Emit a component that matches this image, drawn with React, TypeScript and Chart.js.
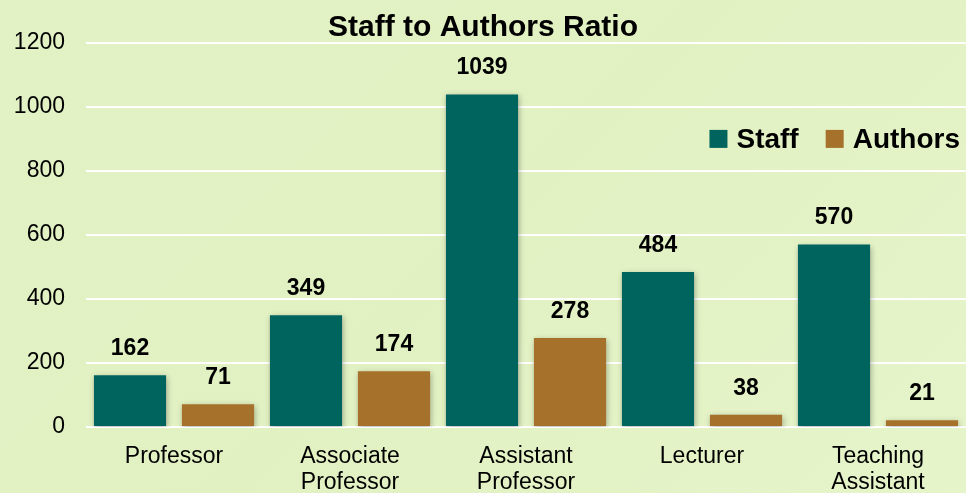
import React, { useEffect, useRef } from "react";
import { Chart, registerables } from "chart.js";

Chart.register(...registerables);

const categories: string[][] = [
  ["Professor"],
  ["Associate", "Professor"],
  ["Assistant", "Professor"],
  ["Lecturer"],
  ["Teaching", "Assistant"],
];
const staffValues = [162, 349, 1039, 484, 570];
const authorValues = [71, 174, 278, 38, 21];
const seriesNames = ["Staff", "Authors"];
const seriesColors = ["#00645e", "#a5712b"];
const chartTitle = "Staff to Authors Ratio";
const yMax = 1200;
const yStep = 200;

const FONT = "'Liberation Sans', Arial, sans-serif";

const shadowPlugin = {
  id: "barShadow",
  beforeDatasetsDraw(chart: any) {
    const ctx = chart.ctx;
    ctx.save();
    ctx.shadowColor = "rgba(0,0,0,0.30)";
    ctx.shadowBlur = 6;
    ctx.shadowOffsetX = 1;
    ctx.shadowOffsetY = 2;
  },
  afterDatasetsDraw(chart: any) {
    chart.ctx.restore();
  },
};

const labelPlugin = {
  id: "valueLabels",
  afterDraw(chart: any) {
    const ctx = chart.ctx;
    ctx.save();
    ctx.font = `bold 23px ${FONT}`;
    ctx.fillStyle = "#000";
    ctx.textAlign = "center";
    ctx.textBaseline = "bottom";
    chart.data.datasets.forEach((ds: any, i: number) => {
      const meta = chart.getDatasetMeta(i);
      meta.data.forEach((el: any, j: number) => {
        ctx.fillText(String(ds.data[j]), el.x, el.y - 15);
      });
    });
    ctx.restore();
  },
};

const legendPlugin = {
  id: "innerLegend",
  afterDraw(chart: any) {
    const ctx = chart.ctx;
    const area = chart.chartArea;
    ctx.save();
    ctx.font = `bold 28px ${FONT}`;
    ctx.textBaseline = "middle";
    ctx.textAlign = "left";
    const box = 18;
    const gapText = 9;
    const gapItem = 27;
    const items = chart.data.datasets.map((ds: any) => ({
      label: ds.label,
      color: ds.backgroundColor,
      w: ctx.measureText(ds.label).width,
    }));
    const total =
      items.reduce((s: number, it: any) => s + box + gapText + it.w, 0) +
      gapItem * (items.length - 1);
    let x = area.right - 6 - total;
    const y = area.top + 96;
    items.forEach((it: any) => {
      ctx.fillStyle = it.color;
      ctx.fillRect(x, y - box / 2, box, box);
      x += box + gapText;
      ctx.fillStyle = "#000";
      ctx.fillText(it.label, x, y + 1);
      x += it.w + gapItem;
    });
    ctx.restore();
  },
};

export default function App() {
  const ref = useRef<HTMLCanvasElement | null>(null);

  useEffect(() => {
    if (!ref.current) return;
    const chart = new Chart(ref.current, {
      type: "bar",
      data: {
        labels: categories,
        datasets: [
          {
            label: seriesNames[0],
            data: staffValues,
            backgroundColor: seriesColors[0],
            categoryPercentage: 1.0,
            barPercentage: 0.82,
          },
          {
            label: seriesNames[1],
            data: authorValues,
            backgroundColor: seriesColors[1],
            categoryPercentage: 1.0,
            barPercentage: 0.82,
          },
        ],
      },
      options: {
        responsive: false,
        animation: false,
        devicePixelRatio: 1,
        layout: { padding: 0 },
        plugins: {
          legend: { display: false },
          tooltip: { enabled: false },
          title: {
            display: true,
            text: chartTitle,
            color: "#000",
            font: { family: FONT, size: 30, weight: "bold", lineHeight: 0.93 },
            padding: { top: 14, bottom: 1 },
          },
        },
        scales: {
          x: {
            grid: { display: false, drawTicks: false },
            border: { display: false },
            ticks: {
              color: "#000",
              padding: 17,
              maxRotation: 0,
              autoSkip: false,
              font: { family: FONT, size: 23, lineHeight: 1.13 },
            },
            afterFit(scale: any) {
              scale.height = 66;
            },
          },
          y: {
            min: 0,
            max: yMax,
            grid: { color: "#ffffff", lineWidth: 2, drawTicks: false },
            border: { display: false },
            ticks: {
              stepSize: yStep,
              color: "#000",
              padding: 21,
              font: { family: FONT, size: 23 },
              callback: (v: any) => String(v),
            },
            afterFit(scale: any) {
              scale.width = 86;
            },
          },
        },
      },
      plugins: [shadowPlugin, labelPlugin, legendPlugin],
    });
    return () => chart.destroy();
  }, []);

  return (
    <div
      style={{
        position: "fixed",
        left: 0,
        top: 0,
        width: 966,
        height: 493,
        background: "linear-gradient(135deg, #e3f2c4 0%, #e2f1c2 50%, #e6f4ca 100%)",
      }}
    >
      <canvas ref={ref} width={966} height={493} style={{ display: "block" }} />
    </div>
  );
}
